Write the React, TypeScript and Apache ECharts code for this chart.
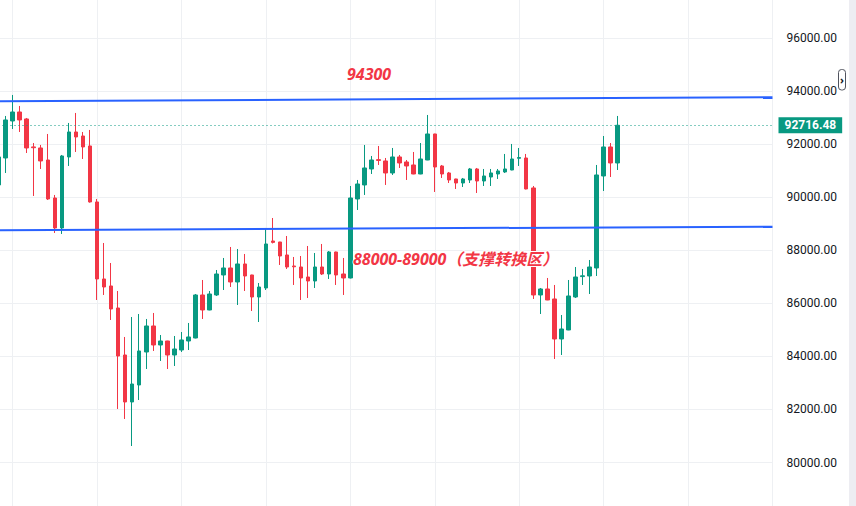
import React, { useEffect, useRef } from "react";
import * as echarts from "echarts";

// OHLC (one entry per candle, left to right)
const opens = [
  90465, 91483, 92878, 93217, 92954, 91900, 91860, 91407, 89974, 88843,
  91521, 92463, 92312, 91935, 89824, 86920, 86656, 85826, 84054, 82282,
  82923, 84167, 85148, 84431, 84582, 84054, 84242, 84582, 84695, 86317,
  85751, 86317, 87071, 87335, 86807, 87486, 87071, 86241, 86581, 88353,
  88315, 87825, 87410, 87372, 86995, 86844, 87372, 87108, 87938, 87108,
  86958, 89937, 90465, 91068, 91420, 91370, 90917, 91521, 91332, 91219,
  90879, 91407, 92388, 91181, 90917, 90691, 90540, 90653, 91068, 90615,
  90766, 90879, 90955, 91030, 91470, 91483, 90352, 86317, 86543, 86166,
  84657, 84997, 86241, 87010, 87033, 87335, 90804, 91898, 91294,
];
const closes = [
  91521, 92916, 93217, 92916, 91860, 91870, 91370, 89937, 88843, 91558,
  92463, 92275, 91898, 89824, 86920, 86618, 85789, 84016, 82282, 82960,
  84205, 85148, 84431, 84582, 84054, 84280, 84620, 84733, 86317, 85751,
  86354, 87108, 87335, 86807, 87486, 87033, 86241, 86618, 88240, 88300,
  87787, 87372, 87380, 86958, 86844, 87372, 87108, 87938, 87071, 86958,
  89974, 90502, 91106, 91407, 91390, 90917, 91521, 91294, 91181, 90879,
  91445, 92388, 91143, 90879, 90653, 90540, 90691, 91068, 90615, 90804,
  90917, 90993, 91068, 91445, 91500, 90314, 86317, 86543, 86128, 84657,
  85034, 86279, 86995, 87040, 87372, 90842, 91898, 91294, 92716.48,
];
const lows = [
  90200, 90917, 92576, 92463, 91671, 90050, 91068, 89899, 88655, 88617,
  91181, 91709, 91445, 89800, 86128, 86317, 85374, 82018, 81641, 80622,
  82357, 83526, 84205, 83828, 83526, 83639, 84167, 84242, 84680, 85412,
  85740, 86279, 86505, 86618, 85939, 86467, 85713, 85298, 86505, 88260,
  87448, 87297, 86694, 86128, 86203, 86581, 87070, 86920, 86694, 86317,
  86940, 89522, 90088, 90879, 91219, 90465, 90842, 91106, 90653, 90870,
  90870, 91400, 90201, 90729, 90540, 90314, 90389, 90540, 90163, 90427,
  90427, 90691, 90917, 91020, 91181, 90300, 86166, 85600, 86120, 83903,
  84054, 84990, 86203, 86694, 86354, 87033, 90238, 90766, 91030,
];
const highs = [
  91700, 93067, 93859, 93444, 92991, 92048, 91973, 92388, 90088, 91596,
  92803, 93180, 92463, 92539, 89937, 88277, 87523, 86467, 84733, 85487,
  85600, 85412, 85638, 84808, 84590, 84770, 84921, 85261, 86354, 86882,
  86467, 87259, 87712, 88127, 88051, 87863, 87080, 86769, 88843, 89220,
  88320, 88541, 87750, 87787, 88164, 87900, 88240, 87975, 87950, 87712,
  90427, 90653, 91973, 91558, 91935, 91483, 91860, 91596, 91407, 91709,
  92048, 93104, 92395, 91219, 90955, 90700, 90729, 91106, 91106, 91068,
  91068, 91068, 91634, 92011, 91860, 91634, 90427, 86580, 86958, 86694,
  85562, 86882, 87372, 87297, 87636, 91219, 92312, 92048, 93067,
];

// total slots on the time axis (candles plus empty space on the right)
const slotCount = 111;
const categories = Array.from({ length: slotCount }, (_, i) => String(i + 1));

// drawn trend lines: [slot index, price]
const upperTrend = [
  [0, 93620],
  [110, 93775],
];
const lowerTrend = [
  [0, 88760],
  [110, 88892],
];

const yTicks = { min: 78000, max: 98000, step: 2000 };
const labelResistance = "94300";
const labelSupport = "88000-89000（支撑转换区）";

const GREEN = "#089981";
const RED = "#F23645";
const BLUE = "#2962FF";
const GRID = "#EEF0F3";

export default function App() {
  const ref = useRef<HTMLDivElement>(null);

  useEffect(() => {
    if (!ref.current) return;
    const chart = echarts.init(ref.current, null, { renderer: "svg" });
    const candleData = opens.map((o, i) => [o, closes[i], lows[i], highs[i]]);
    const last = closes[closes.length - 1];

    chart.setOption({
      animation: false,
      backgroundColor: "#ffffff",
      grid: {
        left: -1.5,
        right: 83.5,
        top: -14.86,
        bottom: -9.54,
        containLabel: false,
        outerBoundsMode: "none",
      },
      xAxis: [
        {
          type: "category",
          data: categories,
          boundaryGap: false,
          axisLine: { show: false },
          axisTick: { show: false },
          axisLabel: { show: false },
          splitLine: {
            show: true,
            interval: (index: number) => index >= 2 && (index - 2) % 12 === 0,
            lineStyle: { color: GRID, width: 1 },
          },
        },
        {
          type: "value",
          min: 0,
          max: slotCount - 1,
          show: false,
        },
      ],
      yAxis: {
        type: "value",
        position: "right",
        min: yTicks.min,
        max: yTicks.max,
        interval: yTicks.step,
        axisLine: { show: false },
        axisTick: { show: true, length: 6, lineStyle: { color: GRID } },
        axisLabel: {
          margin: 14,
          color: "#131722",
          fontSize: 12,
          showMinLabel: false,
          showMaxLabel: false,
          fontFamily: "Roboto, 'Noto Sans', sans-serif",
          formatter: (v: number) => v.toFixed(2),
        },
        splitLine: { show: true, lineStyle: { color: GRID, width: 1 } },
      },
      series: [
        {
          type: "candlestick",
          data: candleData,
          barWidth: 4,
          clip: false,
          itemStyle: {
            color: GREEN,
            color0: RED,
            borderColor: GREEN,
            borderColor0: RED,
            borderWidth: 1,
          },
          markLine: {
            silent: true,
            symbol: ["none", "none"],
            data: [{ yAxis: last }],
            lineStyle: { type: [1, 3], color: GREEN, width: 1 },
            label: {
              show: true,
              position: "end",
              distance: 6,
              formatter: () => last.toFixed(2),
              backgroundColor: GREEN,
              color: "#ffffff",
              fontWeight: "bold",
              fontSize: 12,
              lineHeight: 14,
              fontFamily: "Roboto, 'Noto Sans', sans-serif",
              padding: [1, 6, 1, 6],
            },
          },
        },
        {
          type: "line",
          xAxisIndex: 1,
          data: upperTrend,
          showSymbol: false,
          symbol: "none",
          silent: true,
          lineStyle: { color: BLUE, width: 2 },
        },
        {
          type: "line",
          xAxisIndex: 1,
          data: lowerTrend,
          showSymbol: false,
          symbol: "none",
          silent: true,
          lineStyle: { color: BLUE, width: 2 },
        },
      ],
      graphic: [
        {
          type: "rect",
          z: 100,
          shape: { x: 849, y: 0, width: 7, height: 506 },
          style: { fill: "#EDEDF2" },
          silent: true,
        },
        {
          type: "rect",
          z: 100,
          shape: { x: 838.5, y: 69.5, width: 7, height: 20.5, r: 3 },
          style: { fill: "#ffffff", stroke: "#50535E", lineWidth: 1 },
          silent: true,
        },
        {
          type: "text",
          z: 101,
          x: 842,
          y: 79.5,
          style: {
            text: "›",
            fill: "#131722",
            font: "bold 11px 'Noto Sans', sans-serif",
            align: "center",
            verticalAlign: "middle",
          },
          silent: true,
        },
        {
          type: "text",
          z: 100,
          x: 347,
          y: 74,
          style: {
            text: labelResistance,
            fill: RED,
            font: "italic bold 16px 'Noto Sans', 'Noto Sans CJK SC', sans-serif",
            align: "left",
            verticalAlign: "middle",
          },
          silent: true,
        },
        {
          type: "text",
          z: 100,
          x: 353,
          y: 258.5,
          style: {
            text: labelSupport,
            fill: RED,
            stroke: "#ffffff",
            lineWidth: 2,
            font: "italic bold 16px 'Noto Sans', 'Noto Sans CJK SC', sans-serif",
            align: "left",
            verticalAlign: "middle",
          },
          silent: true,
        },
      ],
    });

    return () => chart.dispose();
  }, []);

  return (
    <div
      ref={ref}
      style={{ position: "fixed", left: 0, top: 0, width: 856, height: 506, background: "#fff" }}
    />
  );
}
